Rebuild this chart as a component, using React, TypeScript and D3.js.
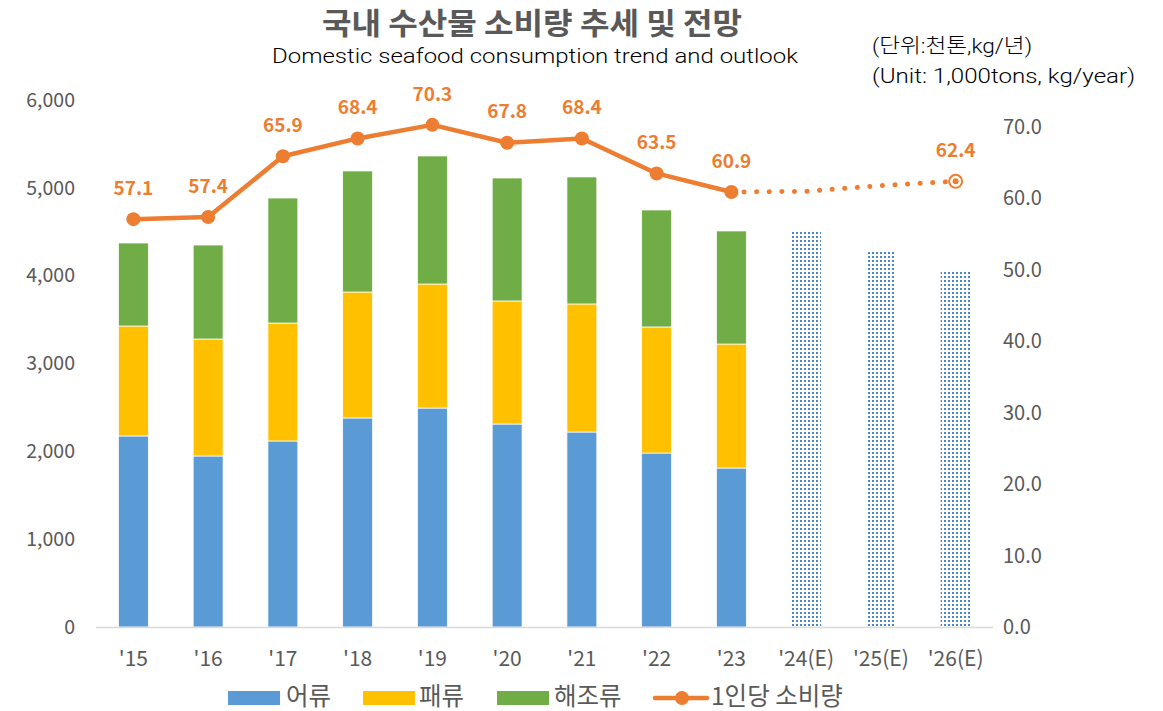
import React from "react";
import * as d3 from "d3";

const categories = ["'15", "'16", "'17", "'18", "'19", "'20", "'21", "'22", "'23", "'24(E)", "'25(E)", "'26(E)"];
const fish = [2175, 1947, 2118, 2380, 2493, 2311, 2220, 1981, 1810];
const shellfish = [1252, 1332, 1343, 1434, 1412, 1401, 1458, 1435, 1412];
const seaweed = [945, 1070, 1423, 1378, 1458, 1400, 1446, 1332, 1287];
const forecastCats = ["'24(E)", "'25(E)", "'26(E)"];
const forecastTotals = [4520, 4281, 4053];
const perCapita = [57.1, 57.4, 65.9, 68.4, 70.3, 67.8, 68.4, 63.5, 60.9];
const forecastLineCats = ["'23", "'24(E)", "'25(E)", "'26(E)"];
const forecastLine = [60.9, 61.0, 61.8, 62.4];
const leftTicks = [0, 1000, 2000, 3000, 4000, 5000, 6000];
const rightTicks = [0, 10, 20, 30, 40, 50, 60, 70];
const seriesNames = ["어류", "패류", "해조류", "1인당 소비량"];

const W = 1163, H = 711;
const FONT = "'Noto Sans CJK KR', 'Noto Sans', sans-serif";
const LIGHT = "Roboto, 'Noto Sans CJK KR', sans-serif";
const GRAY = "#595959";
const BLUE = "#5B9BD5", YELLOW = "#FFC000", GREEN = "#70AD47", ORANGE = "#ED7D31";

export default function App() {
  const x = d3.scaleBand<string>().domain(categories).range([96, 993]).paddingInner(0.6).paddingOuter(0.3);
  const yL = d3.scaleLinear().domain([0, 6000]).range([627, 100]);
  const yR = d3.scaleLinear().domain([0, 70]).range([627, 127]);
  const bw = x.bandwidth();
  const cx = (c: string) => (x(c) as number) + bw / 2;

  const stackData = fish.map((f, i) => ({ cat: categories[i], fish: f, shellfish: shellfish[i], seaweed: seaweed[i] }));
  const stack = d3.stack<any>().keys(["fish", "shellfish", "seaweed"])(stackData);
  const colors = [BLUE, YELLOW, GREEN];

  const line = d3.line<number>().x((_, i) => cx(categories[i])).y((d) => yR(d));
  const fLine = d3.line<number>().x((_, i) => cx(forecastLineCats[i])).y((d) => yR(d));
  const last = forecastLine.length - 1;

  const legendY = 696;

  return (
    <svg width={W} height={H} style={{ position: "absolute", left: 0, top: 0, background: "#fff" }} fontFamily={FONT}>
      <defs>
        <pattern id="dots" width="4" height="4" patternUnits="userSpaceOnUse">
          <rect x="0" y="0" width="2" height="2" fill="#4A86D0" />
        </pattern>
      </defs>
      <text x={532} y={34} textAnchor="middle" fontSize={30} fontWeight={700} fill={GRAY} textLength={420} lengthAdjust="spacingAndGlyphs">국내 수산물 소비량 추세 및 전망</text>
      <text x={535} y={63} textAnchor="middle" fontSize={21} fontWeight={300} fontFamily={LIGHT} fill="#000" textLength={526} lengthAdjust="spacingAndGlyphs">Domestic seafood consumption trend and outlook</text>
      <text x={872} y={53} fontSize={20} fontWeight={300} fontFamily={LIGHT} fill="#000" textLength={160} lengthAdjust="spacingAndGlyphs">(단위:천톤,kg/년)</text>
      <text x={872} y={83} fontSize={20} fontWeight={300} fontFamily={LIGHT} fill="#000" textLength={263} lengthAdjust="spacingAndGlyphs">(Unit: 1,000tons, kg/year)</text>

      {leftTicks.map((t) => (
        <text key={"l" + t} x={75} y={yL(t)} dy="0.35em" textAnchor="end" fontSize={19.5} fill={GRAY}>{d3.format(",")(t)}</text>
      ))}
      {rightTicks.map((t) => (
        <text key={"r" + t} x={1003} y={yR(t)} dy="0.35em" textAnchor="start" fontSize={20} fill={GRAY}>{t.toFixed(1)}</text>
      ))}

      {stack.map((s, si) =>
        s.map((d, i) => (
          <rect key={si + "-" + i} x={x(categories[i])} y={yL(d[1])} width={bw} height={yL(d[0]) - yL(d[1])} fill={colors[si]} stroke="#fff" strokeWidth={0.75} />
        ))
      )}
      {forecastTotals.map((v, i) => (
        <rect key={"f" + i} x={x(forecastCats[i])} y={yL(v)} width={bw} height={yL(0) - yL(v)} fill="url(#dots)" />
      ))}

      <line x1={96} x2={993} y1={627.5} y2={627.5} stroke="#D9D9D9" strokeWidth={1.5} />
      {categories.map((c) => (
        <text key={c} x={cx(c)} y={659} dy="0.35em" textAnchor="middle" fontSize={21} fill={GRAY}>{c}</text>
      ))}

      <path d={fLine(forecastLine) || ""} fill="none" stroke={ORANGE} strokeWidth={5} strokeDasharray="0.1 12.5" strokeLinecap="round" />
      <path d={line(perCapita) || ""} fill="none" stroke={ORANGE} strokeWidth={4.5} strokeLinejoin="round" />
      {perCapita.map((v, i) => (
        <g key={"p" + i}>
          <circle cx={cx(categories[i])} cy={yR(v)} r={7} fill={ORANGE} />
          <text x={cx(categories[i])} y={yR(v) - 31} dy="0.35em" textAnchor="middle" fontSize={19} fontWeight={700} fill={ORANGE}>{v.toFixed(1)}</text>
        </g>
      ))}
      <circle cx={cx(forecastLineCats[last])} cy={yR(forecastLine[last])} r={6.5} fill="#fff" stroke={ORANGE} strokeWidth={2} />
      <circle cx={cx(forecastLineCats[last])} cy={yR(forecastLine[last])} r={3} fill={ORANGE} />
      <text x={cx(forecastLineCats[last])} y={yR(forecastLine[last]) - 31} dy="0.35em" textAnchor="middle" fontSize={19} fontWeight={700} fill={ORANGE}>{forecastLine[last].toFixed(1)}</text>

      <g fontSize={24.5} fill={GRAY}>
        <rect x={228} y={691} width={52} height={14} fill={BLUE} />
        <text x={286} y={legendY} dy="0.35em">{seriesNames[0]}</text>
        <rect x={363} y={691} width={52} height={14} fill={YELLOW} />
        <text x={419} y={legendY} dy="0.35em">{seriesNames[1]}</text>
        <rect x={497} y={691} width={52} height={14} fill={GREEN} />
        <text x={554} y={legendY} dy="0.35em">{seriesNames[2]}</text>
        <line x1={655} x2={707} y1={698} y2={698} stroke={ORANGE} strokeWidth={4.5} strokeLinecap="round" />
        <circle cx={682} cy={698} r={7} fill={ORANGE} />
        <text x={711} y={legendY} dy="0.35em">{seriesNames[3]}</text>
      </g>
    </svg>
  );
}
